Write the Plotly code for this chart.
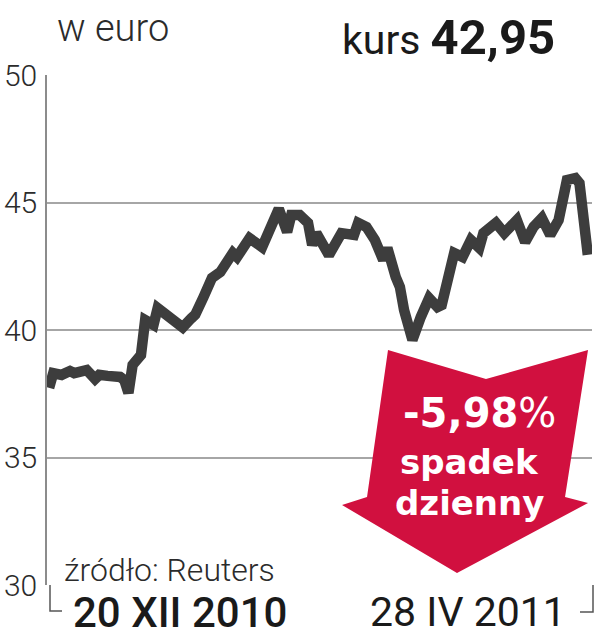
import plotly.graph_objects as go

# ---- data ----
dates = [
    "2010-12-20", "2010-12-21", "2010-12-23", "2010-12-25", "2010-12-26", "2010-12-29",
    "2010-12-31", "2011-01-01", "2011-01-03", "2011-01-06", "2011-01-07", "2011-01-08",
    "2011-01-09", "2011-01-11", "2011-01-12", "2011-01-14", "2011-01-15", "2011-01-17",
    "2011-01-19", "2011-01-21", "2011-01-23", "2011-01-24", "2011-01-26", "2011-01-28",
    "2011-01-30", "2011-02-02", "2011-02-03", "2011-02-06", "2011-02-09", "2011-02-11",
    "2011-02-13", "2011-02-15", "2011-02-16", "2011-02-18", "2011-02-20", "2011-02-21",
    "2011-02-22", "2011-02-25", "2011-02-28", "2011-03-03", "2011-03-04", "2011-03-06",
    "2011-03-08", "2011-03-10", "2011-03-11", "2011-03-13", "2011-03-14", "2011-03-15",
    "2011-03-17", "2011-03-19", "2011-03-21", "2011-03-23", "2011-03-24", "2011-03-27",
    "2011-03-29", "2011-03-31", "2011-04-02", "2011-04-03", "2011-04-06", "2011-04-08",
    "2011-04-11", "2011-04-13", "2011-04-15", "2011-04-17", "2011-04-19", "2011-04-21",
    "2011-04-23", "2011-04-25", "2011-04-26", "2011-04-28",
]
prices = [
    37.73, 38.31, 38.24, 38.39, 38.31, 38.43,
    38.08, 38.24, 38.20, 38.16, 38.04, 37.53,
    38.63, 39.02, 40.39, 40.20, 40.86, 40.60,
    40.45, 40.10, 40.45, 40.60, 41.30, 42.04,
    42.27, 43.02, 42.86, 43.60, 43.25, 44.04,
    44.75, 43.84, 44.51, 44.51, 44.20, 43.33,
    43.80, 42.94, 43.80, 43.73, 44.20, 44.04,
    43.53, 42.75, 43.22, 42.08, 41.69, 40.78,
    39.61, 40.51, 41.25, 40.90, 40.98, 43.02,
    42.86, 43.53, 43.22, 43.80, 44.20, 43.80,
    44.31, 43.45, 44.04, 44.39, 43.73, 44.31,
    45.88, 45.96, 45.76, 42.95,
]
y_ticks = [30, 35, 40, 45, 50]
y_tick_labels = ["30", "35", "40", "45", "50"]
start_label = "20 XII 2010"
end_label = "28 IV 2011"
unit_text = "w euro"
price_label = "kurs"
price_text = "42,95"
change_text = "-5,98"
change_lines = ["spadek", "dzienny"]
source_text = "źródło: Reuters"

# ---- layout geometry ----
W, H = 594, 640
L, R, T, B = 47, 2, 75, 55
PW, PH = W - L - R, H - T - B


def px(x):
    return (x - L) / PW


def py(y):
    return (H - B - y) / PH


LINE_C = "#3d3d3d"
GRID_C = "#a6a6a6"
TEXT_C = "#2b2b2b"
RED = "#d1103f"

fig = go.Figure()
fig.add_trace(go.Scatter(
    x=dates, y=prices, mode="lines",
    line=dict(color=LINE_C, width=10.5),
    hoverinfo="skip", showlegend=False,
))

# arrow shape (decoration)
arrow_px = [(388, 350), (486, 379), (588, 350), (565, 497), (588, 503),
            (457, 573), (342, 505), (367, 497)]
path = "M " + " L ".join(f"{px(a):.4f},{py(b):.4f}" for a, b in arrow_px) + " Z"

shapes = [
    dict(type="path", xref="paper", yref="paper", path=path,
         fillcolor=RED, line=dict(width=0), layer="above"),
    # start bracket
    dict(type="path", xref="paper", yref="paper",
         path=f"M {px(50)},{py(585)} L {px(50)},{py(611)} L {px(62)},{py(611)}",
         line=dict(color="#555555", width=1.5)),
    # end bracket
    dict(type="path", xref="paper", yref="paper",
         path=f"M {px(593)},{py(585)} L {px(593)},{py(612)} L {px(580)},{py(612)}",
         line=dict(color="#555555", width=1.5)),
]

annotations = [
    dict(text=unit_text, x=px(55), y=py(28), xref="paper", yref="paper",
         xanchor="left", yanchor="middle", showarrow=False,
         font=dict(family="Roboto", size=38, color=TEXT_C, weight=300)),
    dict(text=f"{price_label} <b><span style='font-size:49px'>{price_text}</span></b>",
         x=px(557), y=py(37), xref="paper", yref="paper",
         xanchor="right", yanchor="middle", showarrow=False,
         font=dict(family="Roboto", size=41, color="#1a1a1a")),
    dict(text=f"<b>{change_text}</b>%", x=px(479), y=py(413), xref="paper", yref="paper",
         xanchor="center", yanchor="middle", showarrow=False,
         font=dict(family="DejaVu Sans", size=40, color="white")),
    dict(text=f"<b>{change_lines[0]}</b>", x=px(469), y=py(462), xref="paper", yref="paper",
         xanchor="center", yanchor="middle", showarrow=False,
         font=dict(family="DejaVu Sans", size=34, color="white")),
    dict(text=f"<b>{change_lines[1]}</b>", x=px(469), y=py(503), xref="paper", yref="paper",
         xanchor="center", yanchor="middle", showarrow=False,
         font=dict(family="DejaVu Sans", size=34, color="white")),
    dict(text=source_text, x=px(62), y=py(570), xref="paper", yref="paper",
         xanchor="left", yanchor="middle", showarrow=False,
         font=dict(family="Roboto", size=32, color=TEXT_C, weight=300)),
    dict(text=start_label, x=px(180), y=py(612), xref="paper", yref="paper",
         xanchor="center", yanchor="middle", showarrow=False,
         font=dict(family="Roboto", size=42, color="#1a1a1a", weight=500)),
    dict(text=end_label, x=px(468), y=py(612), xref="paper", yref="paper",
         xanchor="center", yanchor="middle", showarrow=False,
         font=dict(family="Roboto", size=41, color="#1a1a1a", weight=400)),
]

fig.update_layout(
    width=W, height=H,
    margin=dict(l=L, r=R, t=T, b=B, pad=0, autoexpand=False),
    paper_bgcolor="white", plot_bgcolor="white",
    shapes=shapes, annotations=annotations,
    xaxis=dict(
        range=["2010-12-19 12:00", "2011-04-29"],
        showgrid=False, zeroline=False, showticklabels=False, ticks="",
        showline=False, fixedrange=True, automargin=False,
    ),
    yaxis=dict(
        range=[30, 50], tickvals=y_ticks, ticktext=y_tick_labels,
        showgrid=True, gridcolor=GRID_C, gridwidth=1.5,
        zeroline=False, showline=True, linecolor="#8c8c8c", linewidth=1.5,
        ticks="", ticklabelstandoff=2, automargin=False,
        tickfont=dict(family="Roboto", size=30, color=TEXT_C, weight=300),
        fixedrange=True,
    ),
)

fig.write_html(
    "out.html",
    config={"displayModeBar": False},
    post_script="document.body.style.margin='0px';document.body.style.overflow='hidden';",
)
